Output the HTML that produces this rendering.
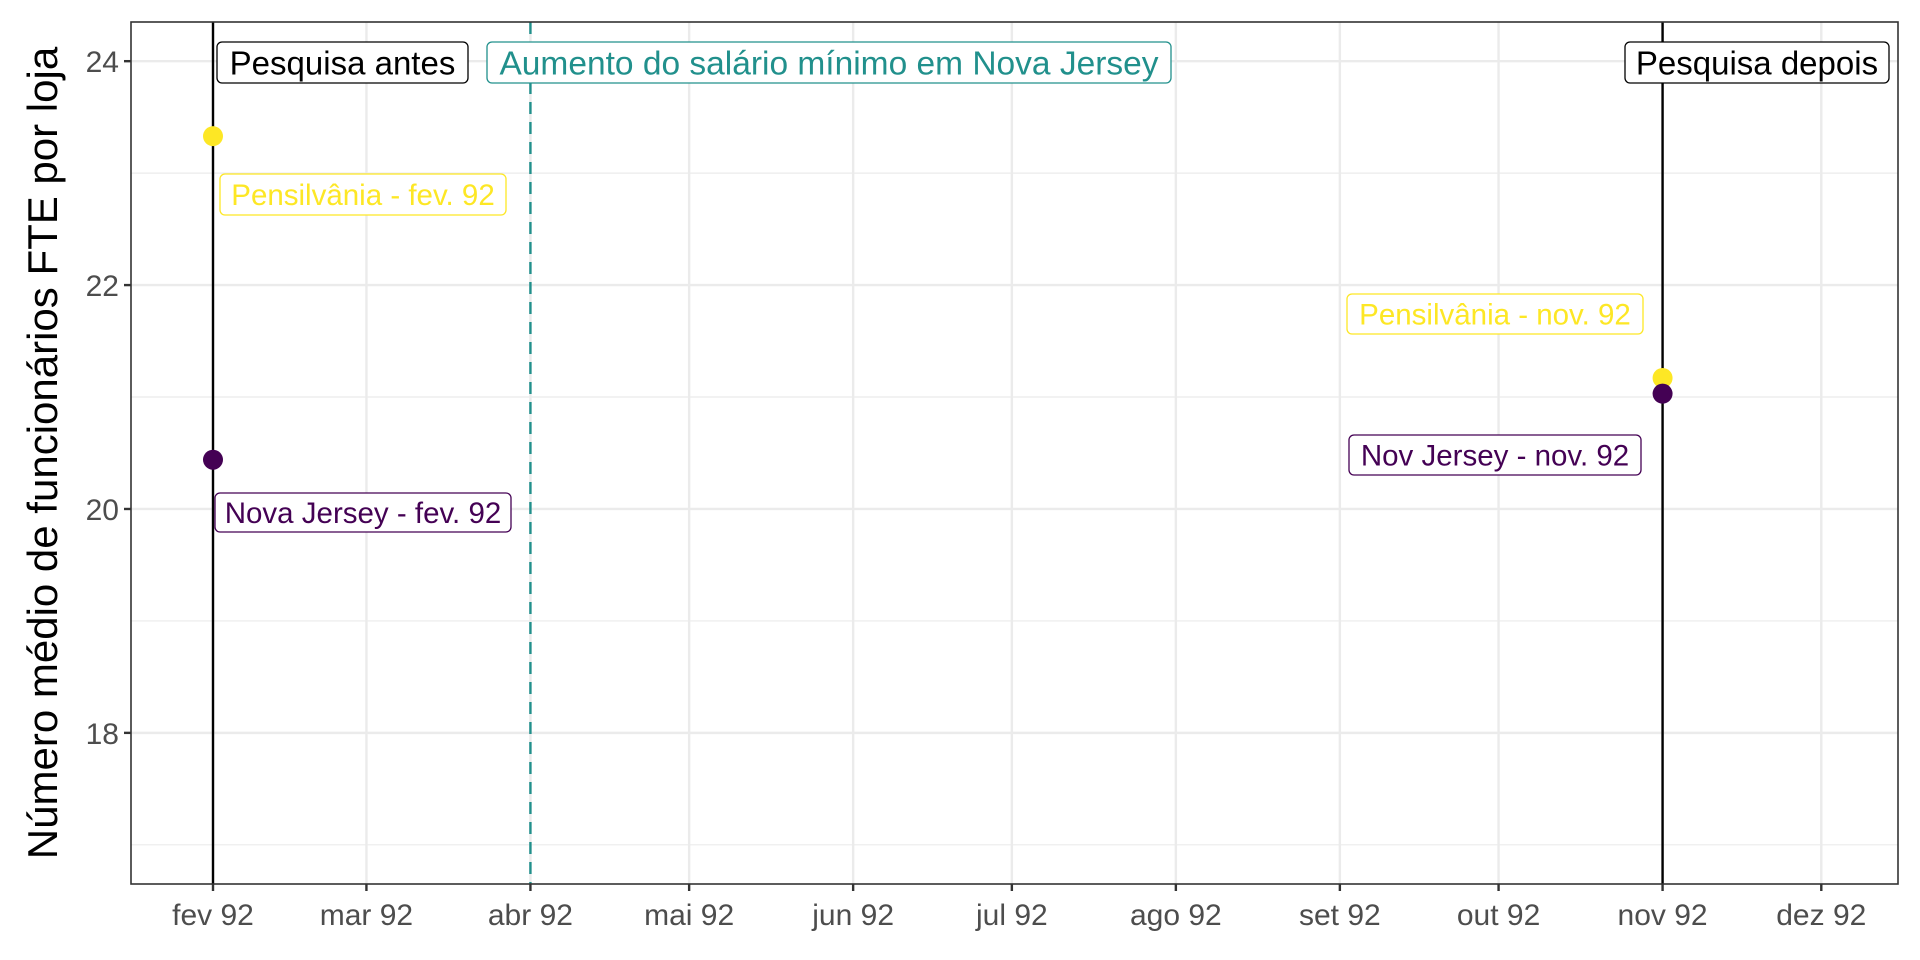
<!DOCTYPE html>
<html><head><meta charset="utf-8"><style>
html,body{margin:0;padding:0;background:#fff;}
svg{display:block;font-family:"Liberation Sans",sans-serif;}
</style></head><body>
<svg id="chart" width="1920" height="960" viewBox="0 0 1920 960" xmlns="http://www.w3.org/2000/svg"></svg>
<script>
const monthLabels = ["fev 92","mar 92","abr 92","mai 92","jun 92","jul 92","ago 92","set 92","out 92","nov 92","dez 92"];
const monthDays = [0,29,60,90,121,151,182,213,243,274,304];
const yTicks = [18,20,22,24];
const yMinor = [17,19,21,23];
const pointDays = [0,0,274,274];
const pointValues = [23.33,20.44,21.17,21.03];
const pointColors = ["#FDE725","#440154","#FDE725","#440154"];
const surveyDays = [0,274];
const policyDay = 60;

const L=131,R=1898,T=22,B=884;
const xDom=[-15.5,318.5], yDom=[16.65,24.35];
const X=d=>L+(d-xDom[0])/(xDom[1]-xDom[0])*(R-L);
const Y=v=>B-(v-yDom[0])/(yDom[1]-yDom[0])*(B-T);
const svg=document.getElementById('chart');
const NS="http://www.w3.org/2000/svg";
function mk(tag,attrs,parent){const e=document.createElementNS(NS,tag);for(const k in attrs)e.setAttribute(k,attrs[k]);(parent||svg).appendChild(e);return e;}

yMinor.forEach(v=>{const e=mk('line',{x1:L,x2:R,y1:Y(v),y2:Y(v),stroke:'#ebebeb','stroke-width':1.2});

});
yTicks.forEach(v=>{const e=mk('line',{x1:L,x2:R,y1:Y(v),y2:Y(v),stroke:'#ebebeb','stroke-width':2.4});

});
monthDays.forEach(d=>{const e=mk('line',{x1:X(d),x2:X(d),y1:T,y2:B,stroke:'#ebebeb','stroke-width':2.4});

});

surveyDays.forEach(d=>{const e=mk('line',{x1:X(d),x2:X(d),y1:T,y2:B,stroke:'#000','stroke-width':2.4});

});
const pl=mk('line',{x1:X(policyDay),x2:X(policyDay),y1:T,y2:B,stroke:'#21908C','stroke-width':2.4,'stroke-dasharray':'12,8'});



pointValues.forEach((v,i)=>{const c=mk('circle',{cx:X(pointDays[i]),cy:Y(v),r:10,fill:pointColors[i]});

});

function label(x,y,w,h,text,color,size,name){
 const g=mk('g',{});
 
 
 mk('rect',{x:x,y:y,width:w,height:h,rx:5,fill:'#fff',stroke:color,'stroke-width':1.3},g);
 const t=mk('text',{x:x+w/2,y:y+h/2+size*0.36,'text-anchor':'middle','font-size':size,fill:color},g);
 t.textContent=text;
}
label(217,42,251,41,'Pesquisa antes','#000',33,'survey-before-label');
label(487,42,684,41,'Aumento do salário mínimo em Nova Jersey','#21908C',33.5,'policy-label');
label(1625,42,264,41,'Pesquisa depois','#000',33,'survey-after-label');
label(220,174,286,41,'Pensilvânia - fev. 92','#FDE725',29.5,'pa-feb-label');
label(215,493,296,39,'Nova Jersey - fev. 92','#440154',29.5,'nj-feb-label');
label(1347,294,296,40,'Pensilvânia - nov. 92','#FDE725',29.5,'pa-nov-label');
label(1349,435,292,40,'Nov Jersey - nov. 92','#440154',29.5,'nj-nov-label');

const pb=mk('rect',{x:L,y:T,width:R-L,height:B-T,fill:'none',stroke:'#333','stroke-width':1.6});



yTicks.forEach(v=>{mk('line',{x1:L-7,x2:L,y1:Y(v),y2:Y(v),stroke:'#333','stroke-width':2.4});
 const t=mk('text',{x:L-12,y:Y(v)+11,'text-anchor':'end','font-size':30,fill:'#4d4d4d'});
 
 
 t.textContent=v;});
monthDays.forEach((d,i)=>{mk('line',{x1:X(d),x2:X(d),y1:B,y2:B+7,stroke:'#333','stroke-width':2.4});
 const t=mk('text',{x:X(d),y:B+41,'text-anchor':'middle','font-size':30,fill:'#4d4d4d'});
 
 
 t.textContent=monthLabels[i];});

const yt=mk('text',{x:0,y:0,transform:'translate(57,'+((T+B)/2)+') rotate(-90)','text-anchor':'middle','font-size':42,fill:'#000'});


yt.textContent='Número médio de funcionários FTE por loja';
</script>
</body></html>
